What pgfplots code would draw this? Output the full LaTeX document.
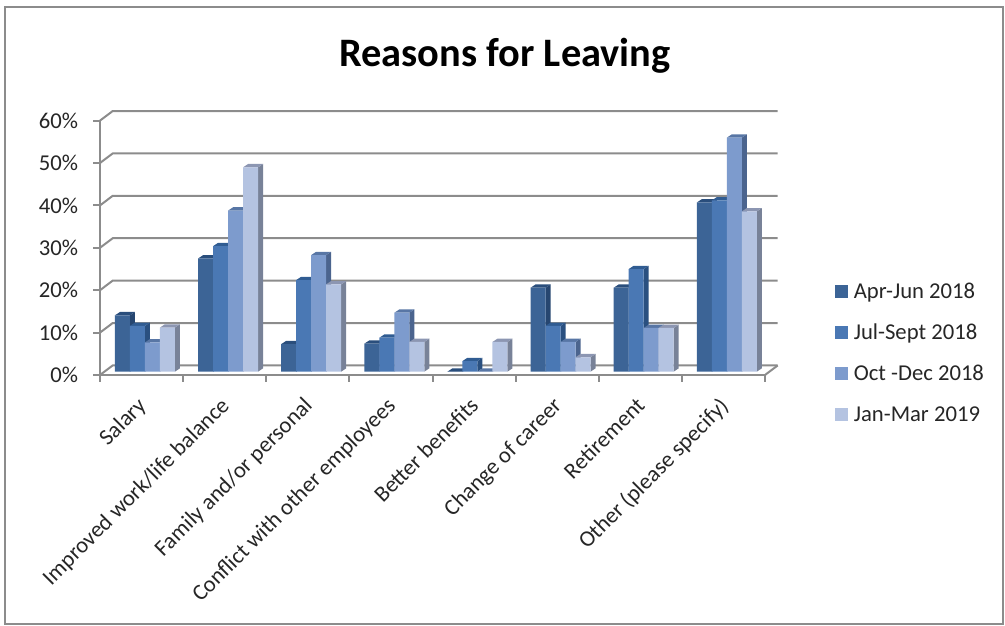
\documentclass[border=0pt]{standalone}
\usepackage{fontspec}
\setmainfont{Carlito}
\usepackage{pgfplots}
\usepackage{pgfplotstable}
\pgfplotsset{compat=1.18}

\definecolor{frontA}{RGB}{60,100,150}
\definecolor{frontB}{RGB}{74,120,180}
\definecolor{frontC}{RGB}{125,155,205}
\definecolor{frontD}{RGB}{180,195,225}
\definecolor{topA}{RGB}{42,78,124}
\definecolor{topB}{RGB}{48,92,146}
\definecolor{topC}{RGB}{88,118,165}
\definecolor{topD}{RGB}{140,150,178}
\definecolor{sideA}{RGB}{38,70,112}
\definecolor{sideB}{RGB}{42,80,128}
\definecolor{sideC}{RGB}{75,100,142}
\definecolor{sideD}{RGB}{120,130,152}
\definecolor{wallgray}{RGB}{140,140,140}

% one row per category, one column per quarter
\pgfplotstableread{
pos s1 s2 s3 s4
0.5 13.3 10.8 6.9 10.4
1.5 26.7 29.6 38.0 48.2
2.5 6.5 21.6 27.5 20.6
3.5 6.6 8.0 13.9 7.0
4.5 0.0 2.5 0.0 7.0
5.5 19.8 10.8 7.0 3.4
6.5 19.8 24.2 10.3 10.3
7.5 39.9 40.4 55.2 37.8
}\reasons

\def\bw{0.1805}
% side and top faces of one series: column, right edge in bar widths, top, side
\newcommand{\depthfaces}[4]{%
  \pgfplotsinvokeforeach{0,...,7}{%
    \pgfplotstablegetelem{##1}{#1}\of\reasons
    \let\val\pgfplotsretval
    \pgfmathsetmacro\xr{##1+0.5+#2*\bw}
    \pgfmathsetmacro\xl{\xr-\bw}
    \pgfmathsetmacro\xrb{\xr+0.06}
    \pgfmathsetmacro\xlb{\xl+0.06}
    \pgfmathsetmacro\vb{\val+0.78}
    \addplot[forget plot,draw=none,fill=#4] coordinates {(\xr,0)(\xrb,0.78)(\xrb,\vb)(\xr,\val)} --cycle;
    \addplot[forget plot,draw=none,fill=#3] coordinates {(\xl,\val)(\xr,\val)(\xrb,\vb)(\xlb,\vb)} --cycle;
  }%
}

\begin{document}
\begin{tikzpicture}
\path[use as bounding box] (0,0) rectangle (753.75pt,468.75pt);
\draw[wallgray,line width=1.5pt] (4.1pt,0.75pt) rectangle (752.2pt,463.5pt);

% walls, ticks and title
\begin{axis}[
    at={(75pt,187.5pt)},anchor=south west,
    scale only axis,width=498.75pt,height=190.8pt,
    xmin=0,xmax=8,ymin=0,ymax=60,
    clip=false,
    axis x line*=bottom,axis y line*=left,
    axis line style={wallgray,line width=1.5pt,-},
    xtick={0,...,8},xticklabels={},
    ytick={0,10,...,60},
    yticklabel={\pgfmathprintnumber{\tick}\%},
    /pgf/number format/assume math mode=true,
    tick style={wallgray,line width=1.5pt},
    major tick length=5pt,
    tick align=outside,
    yticklabel style={font=\fontsize{17}{17}\selectfont,text=black!85,xshift=-8pt},
    title={Reasons for Leaving},
    title style={at={(0.609,1.223)},anchor=center,font=\fontsize{30.3}{30.3}\selectfont\bfseries},
]
\pgfplotsinvokeforeach{0,10,...,60}{
  \pgfmathsetmacro\yb{#1+2.26}
  \addplot[wallgray,line width=1.5pt] coordinates {(0,#1)(0.153,\yb)(8.153,\yb)};
}
\addplot[wallgray,line width=1.5pt] coordinates {(8,0)(8.153,2.26)};
\end{axis}

% bars, moved back onto the floor
\begin{axis}[
    at={(77.55pt,190pt)},anchor=south west,
    scale only axis,width=498.75pt,height=190.8pt,
    xmin=0,xmax=8,ymin=0,ymax=60,
    clip=false,
    axis x line*=bottom,axis y line*=left,
    axis line style={draw=none},
    ytick=\empty,
    xtick={0.5,1.5,...,7.5},
    xticklabels={Salary,Improved work/life balance,Family and/or personal,Conflict with other employees,Better benefits,Change of career,Retirement,Other (please specify)},
    major tick length=0pt,
    xticklabel style={rotate=45,anchor=north east,inner sep=0pt,xshift=-17.4pt,yshift=-7.95pt,font=\fontsize{17}{17}\selectfont,text=black!85},
    legend image code/.code={\fill[#1] (0pt,-4.9pt) rectangle (9.75pt,4.9pt);\path (14.5pt,0pt);},
    legend style={at={(1.099,0.351)},anchor=north west,draw=none,fill=none,inner sep=0pt,
      row sep=17.75pt,font=\fontsize{17}{17}\selectfont,text=black!85,
      nodes={inner sep=0pt,anchor=west}},
    legend cell align=left,
]
\depthfaces{s1}{-1}{topA}{sideA}
\depthfaces{s2}{0}{topB}{sideB}
\depthfaces{s3}{1}{topC}{sideC}
\depthfaces{s4}{2}{topD}{sideD}
\addplot[ybar,bar width=11.25pt,bar shift=-16.875pt,draw=none,fill=frontA] table[x=pos,y=s1]{\reasons};
\addplot[ybar,bar width=11.25pt,bar shift=-5.625pt,draw=none,fill=frontB] table[x=pos,y=s2]{\reasons};
\addplot[ybar,bar width=11.25pt,bar shift=5.625pt,draw=none,fill=frontC] table[x=pos,y=s3]{\reasons};
\addplot[ybar,bar width=11.25pt,bar shift=16.875pt,draw=none,fill=frontD] table[x=pos,y=s4]{\reasons};
\legend{Apr-Jun 2018,Jul-Sept 2018,Oct -Dec 2018,Jan-Mar 2019}
\end{axis}
\end{tikzpicture}
\end{document}
